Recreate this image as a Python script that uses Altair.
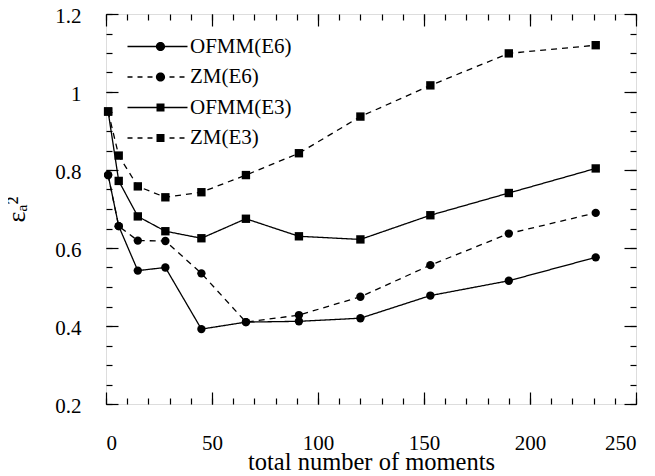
import altair as alt
import pandas as pd

# ---- data ----
moments = [1, 6, 15, 28, 45, 66, 91, 120, 153, 190, 231]
ofmm_e6 = [0.787, 0.656, 0.542, 0.550, 0.392, 0.410, 0.412, 0.420, 0.478, 0.516, 0.576]
zm_e6 = [0.787, 0.656, 0.619, 0.618, 0.535, 0.410, 0.428, 0.475, 0.556, 0.637, 0.690]
ofmm_e3 = [0.950, 0.772, 0.681, 0.643, 0.625, 0.675, 0.630, 0.622, 0.684, 0.741, 0.804]
zm_e3 = [0.950, 0.837, 0.758, 0.730, 0.743, 0.787, 0.843, 0.937, 1.017, 1.099, 1.120]
series_names = ["OFMM(E6)", "ZM(E6)", "OFMM(E3)", "ZM(E3)"]

x_label_values = [0, 50, 100, 150, 200, 250]
x_minor_values = [0, 10, 20, 30, 40, 50, 60, 70, 80, 90, 100, 110, 120, 130, 140, 150,
                  160, 170, 180, 190, 200, 210, 220, 230, 240, 250]
y_label_values = [0.2, 0.4, 0.6, 0.8, 1.0, 1.2]
y_minor_values = [0.2, 0.25, 0.3, 0.35, 0.4, 0.45, 0.5, 0.55, 0.6, 0.65, 0.7, 0.75, 0.8,
                  0.85, 0.9, 0.95, 1.0, 1.05, 1.1, 1.15, 1.2]

rows = []
for name, vals in zip(series_names, [ofmm_e6, zm_e6, ofmm_e3, zm_e3]):
    for m, v in zip(moments, vals):
        rows.append({"moments": m, "value": v, "series": name})
df = pd.DataFrame(rows)

FONT = "Liberation Serif, Times New Roman, serif"
W, H = 530, 390
MAJOR, MINOR = 12, 6

xs = alt.Scale(domain=[0, 250], nice=False, zero=False)
ys = alt.Scale(domain=[0.2, 1.2], nice=False, zero=False)

dash_scale = alt.Scale(domain=series_names, range=[[1, 0], [6, 5], [1, 0], [6, 5]])
shape_scale = alt.Scale(domain=series_names, range=["circle", "circle", "square", "square"])

# legend symbols drawn as filled shapes (thin bars for the line, then the marker),
# in pixel units (symbol size 4 -> 1 unit = 1px)
HW = 0.7

def bar(a, b):
    return f"M{a},{-HW}H{b}V{HW}H{a}Z"

def dashed():
    segs = [(-30, -25), (-20, -15), (-10, -5), (12, 17), (22, 27)]
    return "".join(bar(a, b) for a, b in segs)

def circ(cx, r):
    return f"M{cx + r},0A{r},{r} 0 1,1 {cx - r},0A{r},{r} 0 1,1 {cx + r},0Z"

def sq(cx, h):
    return f"M{cx - h},{-h}H{cx + h}V{h}H{cx - h}Z"

solid_line = bar(-30, 30)
dash_line = dashed()
legend_paths = [
    solid_line + circ(3, 4.6),
    dash_line + circ(3, 4.6),
    solid_line + sq(3, 4.0),
    dash_line + sq(3, 4.0),
]

base = alt.Chart(df)

lines = base.mark_line(color="black", strokeWidth=1.3).encode(
    x=alt.X("moments:Q", scale=xs, axis=alt.Axis(
        orient="bottom", values=x_label_values, format="d", ticks=False, tickSize=0,
        domain=False, grid=False, labelPadding=28, labelFont=FONT, labelFontSize=21,
        labelColor="black", title="total number of moments", titleFont=FONT,
        titleFontSize=24.5, titleFontWeight="normal", titleColor="black", titlePadding=-3)),
    y=alt.Y("value:Q", scale=ys, axis=alt.Axis(
        orient="left", values=y_label_values, format="~g", ticks=False, tickSize=0,
        domain=False, grid=False, labelPadding=25, labelOffset=2, labelFont=FONT,
        labelFontSize=21, labelColor="black", title="εₐ²", titleFont=FONT,
        titleFontSize=26, titleFontWeight="normal", titleColor="black", titlePadding=25)),
    strokeDash=alt.StrokeDash("series:N", scale=dash_scale, legend=None),
)

points = base.mark_point(filled=True, color="black", opacity=1, size=70).encode(
    x=alt.X("moments:Q", scale=xs, axis=None),
    y=alt.Y("value:Q", scale=ys, axis=None),
    shape=alt.Shape("series:N", scale=shape_scale, legend=None),
)

legend_layer = base.mark_point(filled=True, color="black", opacity=1).encode(
    x=alt.X("moments:Q", scale=xs, axis=None),
    y=alt.Y("value:Q", scale=ys, axis=None),
    shape=alt.Shape("series:N", scale=alt.Scale(domain=series_names, range=legend_paths),
                    legend=alt.Legend(orient="none", legendX=41, legendY=22, title=None,
                                      symbolSize=4, padding=0, labelFont=FONT,
                                      labelFontSize=21, labelColor="black", labelOffset=22,
                                      rowPadding=8.5, symbolStrokeWidth=0,
                                      symbolFillColor="black", symbolOpacity=1,
                                      labelLimit=0)),
).transform_filter("false")


def tick_layer(xorient, yorient, xvals, yvals, size):
    return base.mark_point(opacity=0).encode(
        x=alt.X("moments:Q", scale=xs, axis=alt.Axis(
            orient=xorient, values=xvals, offset=-size, tickSize=size, tickWidth=1.2,
            tickColor="black", labels=False, domain=False, grid=False, title=None)),
        y=alt.Y("value:Q", scale=ys, axis=alt.Axis(
            orient=yorient, values=yvals, offset=-size, tickSize=size, tickWidth=1.2,
            tickColor="black", labels=False, domain=False, grid=False, title=None)),
    )


chart = alt.layer(
    lines, points, legend_layer,
    tick_layer("bottom", "left", x_label_values, y_label_values, MAJOR),
    tick_layer("bottom", "left", x_minor_values, y_minor_values, MINOR),
    tick_layer("top", "right", x_label_values, y_label_values, MAJOR),
    tick_layer("top", "right", x_minor_values, y_minor_values, MINOR),
).resolve_scale(shape="independent").resolve_axis(
    x="independent", y="independent"
).properties(
    width=W, height=H,
    autosize=alt.AutoSizeParams(type="none"),
    padding={"left": 98, "top": 6, "right": 9, "bottom": 68},
).configure_view(stroke="black", strokeWidth=1.6).configure(
    background="white", font=FONT
)

chart.save("out.html", embed_options={"renderer": "svg", "actions": False})
